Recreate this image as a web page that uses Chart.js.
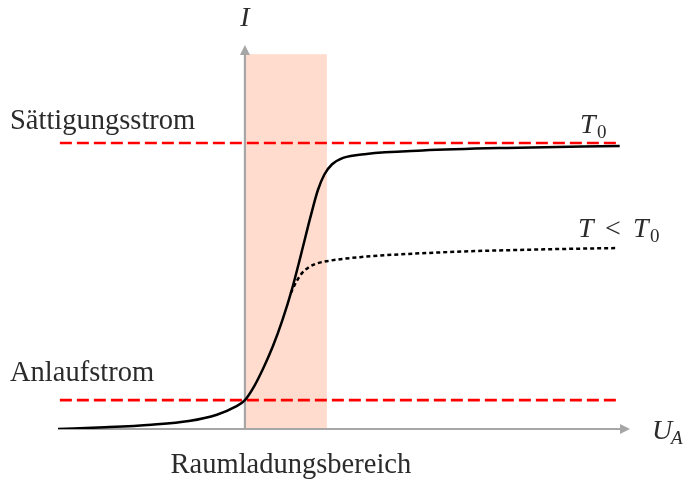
<!DOCTYPE html>
<html>
<head>
<meta charset="utf-8">
<title>Kennlinie Vakuumdiode</title>
<script src="https://cdn.jsdelivr.net/npm/chart.js@4.4.1/dist/chart.umd.min.js"></script>
<style>
  html, body { margin: 0; padding: 0; background: #fff; }
  canvas { display: block; }
</style>
</head>
<body>
<canvas id="diodeChart" width="684" height="480"></canvas>
<script>
// Kennlinie (U_A, I) in willkuerlichen Einheiten
const curveU = [-2.0, -1.5, -1.0, -0.6, -0.3, -0.1, 0, 0.1, 0.2, 0.3, 0.4, 0.5, 0.6, 0.7, 0.78, 0.85, 0.93, 1.05, 1.3, 1.9, 2.8, 4.01];
const curveI = [0, 0.006, 0.015, 0.028, 0.050, 0.078, 0.101, 0.150, 0.215, 0.290, 0.380, 0.485, 0.610, 0.740, 0.835, 0.890, 0.925, 0.948, 0.962, 0.974, 0.983, 0.990];

// T < T0
const coolU = [0.49, 0.55, 0.61, 0.68, 0.76, 0.877, 1.23, 2.19, 3.16, 3.99];
const coolI = [0.475, 0.515, 0.545, 0.565, 0.578, 0.587, 0.601, 0.619, 0.628, 0.633];

// Saettigungsstrom / Anlaufstrom
const levelU = [-1.98, 4.01];
const saturationI = 1.0;
const startI = 0.101;

// Raumladungsbereich
const spaceChargeU = [0, 0.877];
const spaceChargeTop = 1.311;

// Achsen
const axisU = [-2.0, 4.12];
const axisI = [0, 1.343];

const toPoints = (xs, ys) => xs.map((x, i) => ({ x: x, y: ys[i] }));

const textColor = '#2b2b2b';
const axisColor = '#a6a6a6';

const schematicPlugin = {
    id: 'schematic',
    beforeDatasetsDraw(chart) {
        const ctx = chart.ctx;
        const xs = chart.scales.x;
        const ys = chart.scales.y;
        const x0 = xs.getPixelForValue(0);
        const y0 = ys.getPixelForValue(0);

        // shaded region
        ctx.save();
        ctx.fillStyle = 'rgb(255, 220, 206)';
        const rx = xs.getPixelForValue(spaceChargeU[0]);
        const rr = xs.getPixelForValue(spaceChargeU[1]);
        const rt = ys.getPixelForValue(spaceChargeTop);
        ctx.fillRect(rx, rt, rr - rx, y0 - rt);

        // axes
        ctx.strokeStyle = axisColor;
        ctx.fillStyle = axisColor;
        ctx.lineWidth = 2.2;
        const xEnd = xs.getPixelForValue(axisU[1]);
        const yEnd = ys.getPixelForValue(axisI[1]);
        ctx.beginPath();
        ctx.moveTo(xs.getPixelForValue(axisU[0]), y0);
        ctx.lineTo(xEnd - 8, y0);
        ctx.moveTo(x0, y0);
        ctx.lineTo(x0, yEnd + 8);
        ctx.stroke();

        ctx.beginPath();
        ctx.moveTo(xEnd, y0);
        ctx.lineTo(xEnd - 10, y0 - 5);
        ctx.lineTo(xEnd - 10, y0 + 5);
        ctx.closePath();
        ctx.fill();

        ctx.beginPath();
        ctx.moveTo(x0, yEnd);
        ctx.lineTo(x0 - 5, yEnd + 10);
        ctx.lineTo(x0 + 5, yEnd + 10);
        ctx.closePath();
        ctx.fill();
        ctx.restore();
    },
    afterDatasetsDraw(chart) {
        const ctx = chart.ctx;
        const xs = chart.scales.x;
        const ys = chart.scales.y;
        const x0 = xs.getPixelForValue(0);
        const y0 = ys.getPixelForValue(0);
        const ySat = ys.getPixelForValue(saturationI);
        const yStart = ys.getPixelForValue(startI);

        ctx.save();
        ctx.fillStyle = textColor;
        ctx.textBaseline = 'alphabetic';
        const roman = '28.5px "Liberation Serif"';
        const italic = 'italic 28px "Liberation Serif"';
        const sub = '19px "Liberation Serif"';
        const subItalic = 'italic 19px "Liberation Serif"';

        ctx.font = roman;
        ctx.textAlign = 'left';
        ctx.fillText('Sättigungsstrom', 10, ySat - 14);
        ctx.fillText('Anlaufstrom', 10, yStart - 19);
        ctx.textAlign = 'center';
        ctx.fillText('Raumladungsbereich', (x0 + xs.getPixelForValue(spaceChargeU[1])) / 2 + 5, y0 + 44);

        // I
        ctx.font = italic;
        ctx.fillText('I', x0, 26);

        // T0
        ctx.textAlign = 'left';
        ctx.font = italic;
        ctx.fillText('T', 580, ySat - 10);
        ctx.font = sub;
        ctx.fillText('0', 597, ySat - 5);

        // T < T0
        const yCool = ys.getPixelForValue(coolI[coolI.length - 1]);
        ctx.font = italic;
        ctx.fillText('T', 578, yCool - 11);
        ctx.font = '28px "Liberation Serif"';
        ctx.fillText('<', 605, yCool - 11);
        ctx.font = italic;
        ctx.fillText('T', 633, yCool - 11);
        ctx.font = sub;
        ctx.fillText('0', 650, yCool - 6);

        // U_A
        ctx.font = italic;
        ctx.fillText('U', 652, y0 + 10);
        ctx.font = subItalic;
        ctx.fillText('A', 671, y0 + 15);
        ctx.restore();
    }
};

new Chart(document.getElementById('diodeChart'), {
    type: 'scatter',
    data: {
        datasets: [
            {
                label: 'T0',
                data: toPoints(curveU, curveI),
                showLine: true,
                borderColor: '#000',
                borderWidth: 2.5,
                pointRadius: 0,
                cubicInterpolationMode: 'monotone'
            },
            {
                label: 'T < T0',
                data: toPoints(coolU, coolI),
                showLine: true,
                borderColor: '#000',
                borderWidth: 2.5,
                borderDash: [4, 3],
                pointRadius: 0,
                cubicInterpolationMode: 'monotone'
            },
            {
                label: 'Sättigungsstrom',
                data: toPoints(levelU, [saturationI, saturationI]),
                showLine: true,
                borderColor: '#ff0000',
                borderWidth: 2.6,
                borderDash: [12, 5],
                pointRadius: 0
            },
            {
                label: 'Anlaufstrom',
                data: toPoints(levelU, [startI, startI]),
                showLine: true,
                borderColor: '#ff0000',
                borderWidth: 2.6,
                borderDash: [12, 5],
                pointRadius: 0
            }
        ]
    },
    options: {
        responsive: false,
        animation: false,
        layout: {
            padding: { left: 58, right: 54, top: 45, bottom: 51 }
        },
        plugins: {
            legend: { display: false },
            tooltip: { enabled: false }
        },
        scales: {
            x: { type: 'linear', display: false, min: axisU[0], max: axisU[1] },
            y: { type: 'linear', display: false, min: axisI[0], max: axisI[1] }
        }
    },
    plugins: [schematicPlugin]
});
</script>
</body>
</html>
